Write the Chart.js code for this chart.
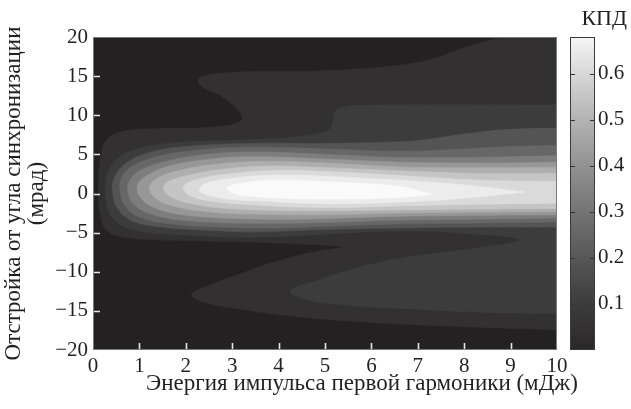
<!DOCTYPE html>
<html>
<head>
<meta charset="utf-8">
<script src="https://cdn.jsdelivr.net/npm/chart.js@4.4.1/dist/chart.umd.min.js"></script>
<style>
  html, body { margin: 0; padding: 0; background: #ffffff; }
  #wrap { width: 631px; height: 409px; }
</style>
</head>
<body>
<div id="wrap"><canvas id="chart" width="631" height="409"></canvas></div>
<script>
// Axis ticks
const xTicks = [0, 1, 2, 3, 4, 5, 6, 7, 8, 9, 10];
const yTicks = [-20, -15, -10, -5, 0, 5, 10, 15, 20];
const cbTicks = [0.1, 0.2, 0.3, 0.4, 0.5, 0.6];

// Efficiency (КПД) contour levels and the grey of each band (band 0 lies below the first level)
const levels = [0.05, 0.10, 0.15, 0.20, 0.25, 0.30, 0.35, 0.40, 0.45, 0.50, 0.55];
const bandColors = ['#242122', '#323031', '#3d3c3c', '#555454', '#686767', '#7e7d7d',
                    '#989797', '#afaeae', '#c6c5c5', '#dbdada', '#edecec', '#fbfafa'];

// Contour outlines [energy, mJ ; detuning, mrad] for each level
const c05 = [[10.4,21],[8.95,21],[8.8,20],[8.3,19.2],[7.8,18.2],[7.2,17.0],[6.3,16.2],[5,15.7],
  [3.8,15.6],[2.8,15.4],[2.3,14.8],[2.3,13.9],[2.8,12.3],[3.15,10.5],[3.2,9.3],[2.6,8.5],[1.5,8.3],
  [0.7,8.0],[0.3,6.9],[0.16,4.5],[0.12,1],[0.15,-2.5],[0.3,-4.7],[0.8,-5.7],[2,-6.0],[3.4,-6.2],
  [4.6,-6.5],[5.35,-6.85],[4.8,-7.4],[4,-8.6],[3.2,-10.2],[2.5,-11.8],[2.12,-12.9],[2.4,-13.9],
  [3.2,-14.8],[4.2,-15.6],[5.5,-16.3],[7.5,-16.9],[10.4,-17.5]];
const c10 = [[10.4,11.3],[7.5,11.35],[6,11.3],[5.45,11.1],[5.22,10.5],[5.18,9.3],[5.1,8.2],[4.6,7.4],
  [3.5,6.9],[2.5,6.7],[1.6,6.4],[0.9,5.6],[0.45,4.0],[0.28,1.5],[0.3,-1.5],[0.5,-3.6],[1,-4.8],
  [2,-5.3],[3.4,-5.6],[5,-5.2],[6.6,-4.8],[8,-5.1],[9.2,-5.9],[8,-7.2],[6.6,-8.3],[5.5,-9.8],
  [4.8,-11.2],[4.25,-12.4],[4.5,-13.4],[5.3,-14.2],[7,-14.8],[8.5,-15.2],[10.4,-15.4]];
const c15 = [[10.4,8.4],[9,8.2],[8,7.6],[7.2,6.9],[6.6,6.6],[5,6.4],[3.4,6.4],[2,6.0],[1.2,5.2],
  [0.7,3.8],[0.46,2],[0.42,0.5],[0.52,-1.8],[0.85,-3.5],[1.5,-4.3],[2.5,-4.7],[3.4,-4.9],[5,-4.6],
  [6.6,-4.4],[8,-4.3],[10.4,-4.3]];
const c20 = [[10.4,6.2],[9,6.0],[8,5.7],[6.6,5.4],[5,5.7],[3.4,5.9],[2.2,5.5],[1.3,4.6],[0.8,3.3],
  [0.6,1.8],[0.58,0.5],[0.68,-1.5],[1.0,-3.0],[1.7,-3.9],[2.8,-4.3],[4,-4.4],[5,-4.2],[6.6,-3.9],
  [8,-3.8],[10.4,-3.6]];
const c25 = [[10.4,4.9],[9,4.7],[8,4.6],[6.6,4.6],[5,5.0],[3.4,5.3],[2.3,4.9],[1.5,4.0],[1.0,2.9],
  [0.78,1.5],[0.76,0],[0.9,-1.5],[1.35,-2.8],[2.1,-3.5],[3.4,-3.8],[5,-3.7],[6.6,-3.4],[8,-3.3],[10.4,-3.1]];
const c30 = [[10.4,4.1],[9,3.9],[8,3.9],[6.6,4.0],[5,4.4],[3.4,4.7],[2.4,4.3],[1.65,3.5],[1.2,2.4],
  [0.97,1.2],[1.0,-0.3],[1.25,-1.6],[1.8,-2.6],[2.7,-3.1],[4,-3.3],[5,-3.2],[6.6,-2.9],[8,-2.8],[10.4,-2.7]];
const c35 = [[10.4,3.4],[9,3.3],[8,3.3],[6.6,3.4],[5,3.9],[3.6,4.1],[2.6,3.7],[1.9,3.0],[1.4,2.0],
  [1.22,0.8],[1.35,-0.6],[1.8,-1.7],[2.6,-2.4],[3.6,-2.65],[5,-2.7],[6.6,-2.5],[8,-2.4],[10.4,-2.3]];
const c40 = [[10.4,2.6],[9,2.55],[8,2.6],[6.6,2.9],[5,3.3],[3.8,3.5],[2.8,3.1],[2.1,2.4],[1.65,1.6],
  [1.52,0.7],[1.7,-0.5],[2.3,-1.5],[3.2,-2.0],[4.5,-2.2],[6.6,-2.1],[8,-2.0],[10.4,-1.9]];
const c45 = [[10.4,1.5],[9,1.6],[8,1.8],[6.6,2.3],[5,2.8],[4,2.95],[3.1,2.6],[2.3,1.9],[1.95,0.9],
  [2.1,-0.3],[2.7,-1.1],[3.6,-1.5],[5,-1.8],[6.6,-1.6],[8,-1.4],[10.4,-1.2]];
const c50 = [[9.3,0.2],[8,1.1],[6.6,1.7],[5,2.2],[4,2.35],[3.1,2.0],[2.4,1.2],[2.3,0.3],[2.8,-0.6],
  [3.8,-1.0],[5,-1.3],[6.6,-1.1],[8,-0.6],[9.3,0.2]];
const c55 = [[7.3,-0.1],[6.6,0.9],[5,1.5],[4,1.7],[3.3,1.4],[2.9,0.7],[3.1,-0.1],[3.8,-0.5],
  [5,-0.7],[6.6,-0.5],[7.3,-0.1]];
const contours = [c05, c10, c15, c20, c25, c30, c35, c40, c45, c50, c55];

// Colour-bar gradient stops (value, grey)
const cbMax = 0.68;
const cbStops = [[0, '#2a2828'], [0.1, '#3d3c3c'], [0.2, '#585757'], [0.3, '#757474'],
                 [0.4, '#939292'], [0.5, '#b4b3b3'], [0.6, '#d8d7d7'], [0.68, '#f6f6f6']];

const textColor = '#231f20';
const serif = "'Liberation Serif', 'DejaVu Serif', serif";
Chart.defaults.font.family = serif;
Chart.defaults.color = textColor;

const datasets = contours.map((pts, i) => ({
  label: 'КПД ' + levels[i].toFixed(2),
  data: pts.map(([x, y]) => ({ x, y })),
  fill: 'shape',
  backgroundColor: bandColors[i + 1],
  borderColor: bandColors[i + 1],
  borderWidth: 0.6,
  pointRadius: 0,
  tension: 0.4,
  order: contours.length - i
}));

const plotBackground = {
  id: 'plotBackground',
  beforeDatasetsDraw(chart) {
    const { ctx, chartArea: a } = chart;
    ctx.save();
    ctx.fillStyle = bandColors[0];
    ctx.fillRect(a.left, a.top, a.right - a.left, a.bottom - a.top);
    ctx.restore();
  }
};

const frameTicks = {
  id: 'frameTicks',
  afterDatasetsDraw(chart) {
    const { ctx, chartArea: a, scales } = chart;
    ctx.save();
    ctx.strokeStyle = '#e6e6e6';
    ctx.lineWidth = 1.6;
    ctx.beginPath();
    scales.x.ticks.forEach(t => {
      if (t.value <= scales.x.min || t.value >= scales.x.max) return;
      const px = Math.round(scales.x.getPixelForValue(t.value)) + 0.5;
      ctx.moveTo(px, a.bottom - 1);
      ctx.lineTo(px, a.bottom - 7);
    });
    scales.y.ticks.forEach(t => {
      if (t.value <= scales.y.min || t.value >= scales.y.max) return;
      const py = Math.round(scales.y.getPixelForValue(t.value)) + 0.5;
      ctx.moveTo(a.left + 1, py);
      ctx.lineTo(a.left + 7, py);
    });
    ctx.stroke();
    ctx.strokeStyle = '#7a7a7a';
    ctx.lineWidth = 1;
    ctx.strokeRect(a.left + 0.5, a.top + 0.5, a.right - a.left - 1, a.bottom - a.top - 1);
    ctx.restore();
  }
};

const colorbar = {
  id: 'colorbar',
  afterDraw(chart) {
    const { ctx } = chart;
    const s = chart.scales.cb;
    const x0 = s.left + 13, x1 = s.left + 38;
    const yTop = s.getPixelForValue(s.max), yBot = s.getPixelForValue(s.min);
    ctx.save();
    const g = ctx.createLinearGradient(0, yBot, 0, yTop);
    cbStops.forEach(([v, c]) => g.addColorStop(Math.min(1, v / s.max), c));
    ctx.fillStyle = g;
    ctx.fillRect(x0, yTop, x1 - x0, yBot - yTop);
    ctx.strokeStyle = '#3a3a3a';
    ctx.lineWidth = 1;
    ctx.strokeRect(x0 + 0.5, yTop + 0.5, x1 - x0 - 1, yBot - yTop - 1);
    ctx.strokeStyle = '#333333';
    ctx.lineWidth = 1.2;
    ctx.beginPath();
    s.ticks.forEach(t => {
      const py = Math.round(s.getPixelForValue(t.value)) + 0.5;
      ctx.moveTo(x0, py); ctx.lineTo(x0 + 5, py);
      ctx.moveTo(x1 - 5, py); ctx.lineTo(x1, py);
    });
    ctx.stroke();
    ctx.fillStyle = textColor;
    ctx.textBaseline = 'middle';
    // colour-bar caption
    ctx.font = '22px ' + serif;
    ctx.textAlign = 'right';
    ctx.fillText('КПД', 627, 19);
    // horizontal axis title
    const xs = chart.scales.x;
    ctx.font = '23px ' + serif;
    ctx.textAlign = 'center';
    ctx.fillText('Энергия импульса первой гармоники (мДж)', xs.getPixelForValue(5) + 37, 384);
    ctx.restore();
  }
};

new Chart(document.getElementById('chart'), {
  type: 'line',
  data: { datasets },
  plugins: [plotBackground, frameTicks, colorbar],
  options: {
    responsive: false,
    animation: false,
    devicePixelRatio: 1,
    layout: { padding: { left: 0, right: 5, top: 37, bottom: 0 } },
    plugins: {
      legend: { display: false },
      tooltip: { enabled: false },
      title: { display: false }
    },
    scales: {
      x: {
        type: 'linear', position: 'bottom', min: 0, max: 10,
        afterBuildTicks: s => { s.ticks = xTicks.map(v => ({ value: v })); },
        afterFit: s => { s.height = 59; },
        grid: { display: false, drawTicks: false },
        border: { display: false },
        ticks: { font: { size: 21 }, padding: 4, maxRotation: 0, color: textColor }
      },
      y: {
        type: 'linear', position: 'left', min: -20, max: 20,
        afterBuildTicks: s => { s.ticks = yTicks.map(v => ({ value: v })); },
        afterFit: s => { s.width = 93; },
        grid: { display: false, drawTicks: false },
        border: { display: false },
        ticks: {
          font: { size: 21 }, padding: 5, color: textColor,
          callback: v => (v < 0 ? '\u2212' + Math.abs(v) : String(v))
        },
        title: {
          display: true,
          text: ['Отстройка от угла синхронизации', '(мрад)'],
          font: { size: 23, lineHeight: 1.0 },
          color: textColor,
          padding: { top: 2.5, bottom: 0 }
        }
      },
      cb: {
        type: 'linear', position: 'right', min: 0, max: cbMax,
        afterBuildTicks: s => { s.ticks = cbTicks.map(v => ({ value: v })); },
        afterFit: s => { s.width = 69; },
        grid: { display: false, drawTicks: true, tickLength: 38 },
        border: { display: false },
        ticks: { font: { size: 21 }, padding: 3, color: textColor, callback: v => v.toFixed(1) }
      }
    }
  }
});
</script>
</body>
</html>
